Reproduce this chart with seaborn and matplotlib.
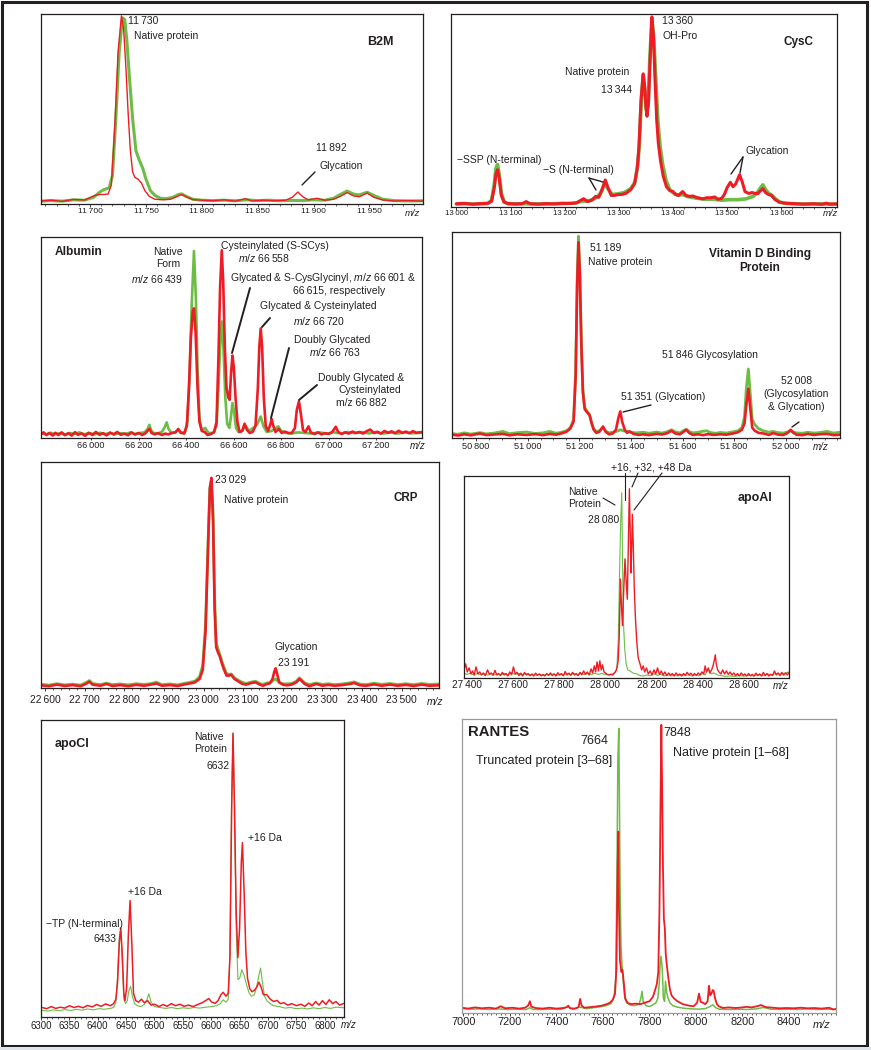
import matplotlib
matplotlib.use("Agg")
import matplotlib.pyplot as plt
from matplotlib.lines import Line2D
from matplotlib.patches import Rectangle
from matplotlib.ticker import MultipleLocator
import seaborn as sns
import pandas as pd

# ---------------------------------------------------------------- data
# (m/z, relative intensity %); green = first sample, red = second sample
B2M_GREEN = [(11656,1.5),(11665,1.8),(11675,1.5),(11685,2.2),(11695,2.0),(11703,3.5),(11708,6.0),(11712,7.5),(11717,8.5),(11720,15),(11723,45),(11726,80),(11729,98),(11731,97),(11733,85),(11735,68),(11738,45),(11741,28),(11744,23),(11747,19),(11750,13),(11754,7),(11758,4.5),(11763,3),(11768,2.8),(11774,3.5),(11779,5),(11782,5.3),(11786,4),(11792,2.5),(11800,2),(11810,1.8),(11820,2),(11830,1.7),(11840,2.2),(11850,1.8),(11860,2),(11870,1.7),(11880,1.9),(11890,1.8),(11900,2.2),(11910,2.0),(11918,3),(11924,5),(11930,6.8),(11936,5.2),(11941,4.8),(11948,6.2),(11954,4.5),(11962,2.5),(11972,1.8),(11985,1.6),(11998,1.7)]
B2M_RED = [(11656,1.6),(11665,2),(11675,1.4),(11685,2.4),(11695,2.1),(11703,4.2),(11708,5),(11712,5),(11716,5.2),(11719,10),(11722,40),(11725,80),(11728,99),(11730,92),(11732,72),(11734,48),(11736,28),(11738,17),(11740,14),(11743,13),(11746,11),(11749,7),(11753,4),(11758,2.5),(11765,2.2),(11772,2.5),(11778,4),(11782,5),(11786,3.8),(11792,2.3),(11800,2),(11810,1.7),(11820,2.2),(11830,1.5),(11839,2.8),(11845,1.6),(11855,2),(11865,1.7),(11875,2),(11881,3.5),(11886,6.3),(11890,4),(11895,2.2),(11903,3),(11910,2),(11918,2.5),(11924,4),(11930,6),(11936,4.2),(11941,3.8),(11948,5.8),(11954,3.5),(11962,2.1),(11972,1.6),(11985,1.8),(11998,1.5)]

CYSC_GREEN = [(13000,1.5),(13015,1.7),(13030,1.4),(13045,1.6),(13058,1.8),(13065,3.5),(13070,12),(13073,20),(13076,22),(13079,17),(13083,7),(13088,2.8),(13095,1.7),(13110,1.5),(13125,1.7),(13140,1.6),(13160,1.5),(13180,1.7),(13200,1.8),(13220,2),(13232,3),(13245,3.2),(13257,4.5),(13266,7),(13274,12),(13281,9),(13288,6.5),(13298,6.8),(13310,7.5),(13322,9.5),(13330,13),(13335,22),(13338,33),(13342,58),(13345,68),(13348,60),(13351,50),(13354,52),(13357,75),(13361,97),(13364,90),(13368,68),(13372,45),(13376,32),(13381,22),(13387,14),(13394,9),(13402,7),(13410,6),(13418,6.5),(13426,5.5),(13435,5),(13445,4.5),(13460,4),(13475,4),(13490,3.5),(13505,3.8),(13520,3.8),(13535,4.2),(13548,5.5),(13556,7.5),(13562,10),(13566,11.5),(13571,9),(13577,7),(13583,6),(13590,4),(13598,2.5),(13610,1.8),(13630,1.6),(13650,1.5),(13670,1.6),(13690,1.5),(13703,1.5)]
CYSC_RED = [(13000,1.7),(13015,1.9),(13030,1.5),(13045,1.8),(13058,1.9),(13065,3),(13070,10),(13073,17),(13076,19.3),(13079,15),(13083,6),(13088,2.5),(13095,1.8),(13110,1.6),(13122,1.8),(13129,2.8),(13136,1.7),(13150,1.5),(13165,1.8),(13180,1.6),(13195,1.9),(13210,1.8),(13222,2.2),(13230,3.5),(13235,4.3),(13242,2.8),(13250,3.5),(13257,5.5),(13263,5),(13269,9),(13275,14),(13280,10),(13286,6),(13292,6),(13298,6.4),(13306,6.5),(13314,7.2),(13322,9),(13329,12),(13334,20),(13337,30),(13341,55),(13345,69),(13348,62),(13350,52),(13352,47),(13355,55),(13358,78),(13361,98.5),(13364,88),(13367,65),(13370,45),(13373,33),(13377,24),(13382,16),(13388,10.5),(13394,8.5),(13400,8),(13405,6.5),(13410,6),(13418,8),(13424,6),(13430,5.5),(13437,5.7),(13443,5),(13450,4.5),(13455,4.2),(13462,4.8),(13470,4.8),(13477,5.2),(13483,4),(13490,4.5),(13495,6.5),(13500,10),(13506,12.8),(13511,10.5),(13516,12),(13523,16.7),(13528,13),(13533,8),(13540,7),(13546,7.5),(13552,7),(13557,7),(13562,8.5),(13566,9.5),(13571,7.5),(13576,6.5),(13582,6),(13588,4),(13596,2.5),(13606,2),(13620,1.8),(13640,1.5),(13660,1.7),(13675,1.4),(13683,2),(13690,1.5),(13703,1.6)]

ALB_GREEN = [(65789,2.5),(65810,1.8),(65830,2.6),(65850,1.9),(65870,2.4),(65890,1.7),(65910,2.5),(65930,2.0),(65950,2.8),(65970,1.9),(65995,2.4),(66015,1.8),(66037,2.6),(66060,2.0),(66080,2.5),(66100,1.8),(66122,2.4),(66145,2.1),(66164,2.7),(66185,2.0),(66206,2.5),(66225,2.8),(66238,4.5),(66245,6.6),(66252,4),(66262,2.5),(66280,2.3),(66298,3),(66310,5.5),(66318,7.8),(66326,4.5),(66338,2.5),(66353,2.8),(66367,4),(66378,2.5),(66395,3),(66405,8),(66414,30),(66423,65),(66433,93),(66441,70),(66448,35),(66456,10),(66465,4),(66480,5),(66494,2.5),(66515,2.5),(66528,6),(66536,25),(66543,45),(66550,58),(66557,45),(66565,20),(66573,7),(66582,5),(66588,10),(66595,17.4),(66602,13),(66610,5),(66620,3),(66635,3.5),(66651,6),(66665,3.5),(66683,5),(66700,7),(66714,10.7),(66725,6),(66739,3),(66760,3.5),(66788,5.8),(66800,3.5),(66820,2.5),(66844,2.2),(66870,2.8),(66900,2.5),(66930,2.2),(66960,2.8),(66992,2.2),(67020,2.8),(67050,2.3),(67080,3),(67110,2.4),(67140,2.9),(67170,2.3),(67200,2.8),(67230,2.2),(67260,2.7),(67290,2.2),(67320,2.8),(67350,2.3),(67395,2.6)]
ALB_RED = [(65789,1.8),(65800,2.8),(65812,1.5),(65825,2.5),(65838,1.2),(65850,2.6),(65862,1.5),(65876,2.8),(65890,1.4),(65905,2.4),(65918,1.2),(65932,2.9),(65945,1.6),(65960,2.3),(65975,1.1),(65990,2.6),(66005,1.5),(66020,3.0),(66035,1.6),(66050,2.4),(66065,1.3),(66080,2.7),(66095,1.8),(66110,3.0),(66125,1.6),(66140,2.2),(66155,1.4),(66170,2.8),(66185,1.7),(66200,2.5),(66215,1.5),(66228,2.3),(66240,3.8),(66246,4.6),(66254,2.5),(66268,1.8),(66282,2.4),(66298,1.5),(66312,2.2),(66324,1.8),(66340,2.5),(66355,2.8),(66367,4.5),(66378,2.6),(66392,2.2),(66403,6),(66412,25),(66420,50),(66428,63),(66433,64.5),(66440,52),(66448,25),(66456,8),(66466,3.5),(66478,3),(66490,1.5),(66505,2),(66518,3),(66528,8),(66536,40),(66543,75),(66550,93.4),(66556,78),(66563,45),(66570,25),(66578,20),(66583,19),(66589,32),(66595,41),(66601,35),(66608,20),(66616,8),(66625,3),(66636,3.5),(66646,7.1),(66656,4),(66668,2.5),(66680,3),(66692,6),(66702,25),(66708,45),(66714,54.5),(66720,45),(66727,20),(66735,6),(66745,3.5),(66755,7),(66760,9.4),(66767,6),(66776,3),(66790,4.5),(66802,2.5),(66815,3.2),(66830,2.5),(66845,2.5),(66858,5),(66866,14),(66875,18.2),(66883,12),(66892,4),(66902,3),(66915,5.8),(66925,2.8),(66940,2),(66955,2.8),(66970,1.8),(66985,2.4),(67000,2),(67015,3),(67030,5.6),(67040,3),(67055,2),(67070,2.8),(67085,2.2),(67100,3.2),(67115,2.5),(67130,3),(67145,2.2),(67160,3.4),(67175,4.2),(67190,2.5),(67205,3.1),(67220,2.2),(67235,3.5),(67250,2.6),(67265,3.3),(67280,2.4),(67295,3.6),(67310,2.5),(67325,3.2),(67340,2.4),(67355,3.4),(67370,2.6),(67395,3)]

VDBP_GREEN = [(50707,2.2),(50730,1.8),(50755,2.5),(50780,1.9),(50815,2.6),(50840,2.0),(50870,2.4),(50904,3.2),(50930,2.1),(50960,2.6),(50996,2.9),(51030,2.2),(51060,2.5),(51086,3.2),(51110,2.3),(51130,2.8),(51150,3.5),(51165,5),(51178,9),(51186,32),(51192,78),(51197,98),(51202,82),(51208,48),(51214,24),(51221,15),(51230,13),(51240,11.5),(51248,7.5),(51256,4.5),(51266,3.2),(51278,3.5),(51292,5),(51302,3.5),(51315,2.5),(51330,2.8),(51345,3.2),(51359,4),(51370,3.5),(51385,3.2),(51400,2.8),(51420,2.5),(51447,2.8),(51470,2.3),(51499,2.9),(51520,2.4),(51540,3.0),(51557,4),(51572,3),(51590,2.5),(51606,3.8),(51615,4.2),(51625,3.2),(51640,2.5),(51660,2.8),(51680,3.3),(51693,3.5),(51710,2.6),(51730,2.3),(51746,2.7),(51770,2.4),(51795,3.0),(51815,3.5),(51830,5),(51840,10),(51847,24),(51855,33.5),(51862,22),(51870,9),(51880,6.5),(51895,4.5),(51913,3.5),(51935,2.8),(51951,3.2),(51970,2.6),(51990,2.4),(52005,2.9),(52019,3.3),(52030,2.8),(52042,2.5),(52065,2.3),(52085,2.8),(52107,2.4),(52130,2.6),(52159,3.2),(52185,2.4),(52210,2.8)]
VDBP_RED = [(50707,1.6),(50730,1.2),(50755,1.8),(50780,1.3),(50815,2.2),(50840,1.4),(50870,1.7),(50904,2.0),(50930,1.3),(50960,1.8),(50996,1.5),(51030,1.9),(51060,1.4),(51086,2.0),(51110,1.6),(51130,2.2),(51150,3.0),(51165,4.5),(51178,8),(51186,30),(51192,75),(51197,95),(51202,80),(51208,45),(51214,22),(51221,14),(51230,12.5),(51240,11),(51248,7),(51256,4),(51266,2.5),(51278,3),(51292,5.6),(51302,3),(51315,1.8),(51330,2.2),(51342,4),(51352,10),(51359,12.9),(51366,8),(51376,4),(51385,2.5),(51395,3.2),(51410,2),(51430,1.5),(51447,1.8),(51470,1.4),(51499,2),(51520,1.7),(51540,2.3),(51557,3.5),(51572,2.2),(51590,1.8),(51606,3.2),(51615,4),(51625,2.5),(51640,1.5),(51660,1.8),(51680,1.4),(51700,1.9),(51720,1.5),(51746,1.8),(51770,1.6),(51795,2.2),(51815,2.8),(51830,4),(51840,7),(51847,16),(51855,23.9),(51862,15),(51870,5),(51880,3.5),(51895,2.5),(51913,2.2),(51935,1.5),(51951,2.4),(51970,1.6),(51990,1.5),(52005,2.3),(52019,4),(52030,2.5),(52042,1.6),(52065,1.4),(52085,2.0),(52107,1.5),(52130,1.8),(52159,2.0),(52185,1.4),(52210,1.6)]

CRP_GREEN = [(22590,1.6),(22610,1.3),(22630,1.9),(22650,1.4),(22670,1.7),(22690,1.3),(22705,2.5),(22712,3.3),(22720,2.0),(22740,1.5),(22755,2.2),(22770,1.5),(22790,1.8),(22810,1.4),(22830,1.9),(22850,1.6),(22870,2.0),(22881,2.6),(22895,1.5),(22915,1.8),(22935,1.4),(22950,2),(22965,2.5),(22978,3),(22990,5),(22998,10),(23005,28),(23011,62),(23016,89),(23020,92),(23024,78),(23028,40),(23032,20),(23037,17),(23041,15),(23046,12),(23052,9),(23058,6.5),(23064,6),(23070,6.2),(23078,4.5),(23087,3.5),(23098,2.5),(23108,2),(23120,2.6),(23131,3),(23142,2),(23150,1.6),(23160,2.2),(23170,2.5),(23177,3.5),(23182,4),(23188,3),(23195,2),(23205,1.8),(23222,2),(23234,3),(23242,4.5),(23248,3.5),(23255,2.3),(23267,1.5),(23284,2.2),(23300,1.6),(23315,1.9),(23330,1.5),(23350,1.8),(23370,2.3),(23380,2.7),(23395,1.7),(23410,1.5),(23430,2.1),(23450,1.6),(23470,2.0),(23490,1.5),(23510,1.9),(23530,1.5),(23550,2.0),(23570,1.6),(23594,1.8)]
CRP_RED = [(22590,1.2),(22610,0.8),(22630,1.5),(22650,0.9),(22670,1.3),(22690,0.8),(22705,2),(22712,2.8),(22720,1.5),(22740,1.0),(22755,1.8),(22770,0.9),(22790,1.3),(22810,0.8),(22830,1.4),(22850,1.0),(22870,1.6),(22881,2.0),(22895,1.0),(22915,1.3),(22935,0.9),(22950,1.5),(22965,2),(22978,2.5),(22990,4),(22998,8),(23005,25),(23011,60),(23016,88),(23020,93),(23024,74),(23028,35),(23032,18),(23037,15.5),(23041,14),(23046,11),(23052,8),(23058,5.5),(23064,5.5),(23070,5.8),(23078,4),(23087,3),(23098,1.8),(23108,1.5),(23120,2.2),(23131,2.5),(23142,1.5),(23150,1.0),(23160,1.8),(23167,2),(23174,4),(23179,7.5),(23182,8.7),(23186,6),(23191,2.5),(23200,1.5),(23210,1.2),(23222,1.5),(23234,2.5),(23242,4),(23248,3),(23255,1.8),(23267,0.8),(23284,1.8),(23300,1.0),(23315,1.4),(23330,1.0),(23350,1.3),(23370,1.8),(23380,2.2),(23395,1.2),(23410,1.0),(23430,1.6),(23450,1.0),(23470,1.5),(23490,1.0),(23510,1.4),(23530,0.9),(23550,1.5),(23570,1.0),(23594,1.2)]

APOAI_GREEN = [(27388,2.5),(27400,1.8),(27415,2.3),(27430,1.5),(27445,2.2),(27460,1.6),(27475,2.0),(27490,1.4),(27505,2.2),(27520,1.5),(27535,2.0),(27550,1.6),(27565,2.2),(27580,1.5),(27595,2.6),(27610,1.8),(27625,2.3),(27640,1.5),(27655,2.1),(27670,1.6),(27685,2.0),(27700,1.4),(27715,1.9),(27730,1.3),(27745,1.8),(27760,1.5),(27775,2.0),(27790,1.4),(27805,1.9),(27820,1.5),(27835,2.2),(27850,1.6),(27865,2.1),(27880,1.4),(27895,2.3),(27910,1.6),(27925,2.2),(27940,1.7),(27955,2.4),(27970,1.8),(27985,2.3),(28000,1.7),(28015,1.6),(28030,2.0),(28042,2.8),(28050,5),(28056,20),(28062,55),(28067,80),(28071,91.7),(28074,60),(28078,28),(28084,14),(28090,7),(28097,4),(28107,3.5),(28120,2.4),(28136,2),(28150,1.2),(28165,1.0),(28180,1.5),(28195,1.1),(28210,2.2),(28225,1.3),(28240,1.8),(28255,1.0),(28270,1.6),(28285,1.0),(28300,1.5),(28315,1.0),(28330,1.8),(28345,1.2),(28360,1.6),(28375,1.0),(28390,1.5),(28405,1.1),(28420,2.2),(28432,1.5),(28445,4.5),(28458,2),(28470,2.5),(28485,1.5),(28500,1.2),(28520,0.8),(28540,1.0),(28560,0.8),(28580,1.2),(28600,0.9),(28620,1.3),(28640,1.0),(28660,1.6),(28680,1.2),(28700,2.0),(28720,1.5),(28740,2.2),(28760,1.8),(28780,2.5),(28795,3.0)]
APOAI_RED = [(27388,4),(27395,7),(27402,3),(27410,5),(27418,2),(27425,3.5),(27432,1.5),(27440,5.5),(27448,2),(27456,3),(27464,1.5),(27472,2.5),(27480,1.2),(27490,4),(27498,1.8),(27506,2.5),(27514,1.3),(27522,3.8),(27530,1.5),(27538,2.2),(27546,1.2),(27554,2.8),(27562,1.5),(27570,2.2),(27578,1.0),(27586,3),(27594,1.6),(27602,5.5),(27610,2),(27618,2.8),(27626,1.2),(27634,2.4),(27642,1.0),(27650,2.8),(27658,1.5),(27666,2.2),(27674,1.1),(27682,1.8),(27690,1.0),(27698,2.4),(27706,1.3),(27714,2.0),(27722,1.1),(27730,1.7),(27738,1.0),(27746,2.2),(27754,1.3),(27762,2.5),(27770,1.2),(27778,2.0),(27786,1.0),(27794,2.6),(27802,1.4),(27810,2.2),(27818,1.1),(27826,3.2),(27834,1.5),(27842,2.4),(27850,1.3),(27858,2.8),(27866,1.5),(27874,2.2),(27882,1.2),(27890,2.8),(27898,1.6),(27906,3.5),(27914,1.8),(27922,3.0),(27930,1.5),(27938,4.5),(27945,2.5),(27952,6),(27958,3),(27964,8),(27970,3.5),(27976,8.5),(27982,4),(27988,6.5),(27994,3),(28000,2.5),(28008,1.8),(28016,1.5),(28024,1.8),(28032,1.5),(28040,2.5),(28048,4),(28055,8),(28060,20),(28065,49),(28070,35),(28074,26),(28080,45),(28085,59),(28090,48),(28095,39),(28100,70),(28104,93.7),(28108,70),(28111,52),(28114,65),(28117,81),(28121,65),(28125,45),(28130,30),(28136,18),(28142,10),(28150,7),(28157,4),(28164,6),(28170,3),(28178,5),(28186,2),(28194,3.5),(28202,1.5),(28210,4),(28218,2),(28226,5),(28234,1.8),(28242,3.5),(28250,1.5),(28258,3),(28266,1.2),(28274,2.5),(28282,1.3),(28290,2.2),(28298,1.0),(28306,2.5),(28314,1.3),(28322,2.0),(28330,1.0),(28338,2.2),(28346,1.4),(28354,2.8),(28362,1.5),(28370,2.4),(28378,1.2),(28386,2.2),(28394,1.3),(28402,2.5),(28410,1.5),(28418,3),(28426,2),(28432,6),(28438,3),(28446,5),(28452,2.5),(28460,4),(28466,6),(28472,9),(28476,11.5),(28480,7),(28486,4),(28492,3),(28500,2),(28508,4),(28516,2),(28524,3.5),(28532,1.8),(28540,3),(28548,1.5),(28556,2.5),(28564,1.2),(28572,2.2),(28580,1.0),(28588,2.5),(28596,1.3),(28604,2.0),(28612,1.0),(28620,2.2),(28628,1.1),(28636,1.8),(28644,1.0),(28652,2.4),(28660,1.2),(28668,2.0),(28676,1.0),(28684,2.8),(28692,1.2),(28700,2.2),(28708,1.0),(28716,1.8),(28724,1.2),(28732,3.5),(28740,1.5),(28748,2.5),(28756,1.2),(28764,2.8),(28772,1.4),(28780,2.5),(28788,1.5),(28795,2.8)]

APOCI_GREEN = [(6302,2.2),(6312,2.0),(6322,2.4),(6332,2.1),(6342,2.5),(6352,2.2),(6362,2.6),(6372,2.3),(6382,2.7),(6392,2.4),(6402,2.8),(6412,2.6),(6422,2.9),(6428,3.2),(6432,5),(6435,14),(6438,27),(6440.5,29.4),(6443,20),(6446,6),(6449,4.5),(6452,5.5),(6455,9),(6458,10.3),(6461,7),(6465,4.5),(6470,3.8),(6476,3.5),(6482,4.2),(6487,6),(6490,7.8),(6494,5),(6500,3.5),(6510,3.2),(6520,2.9),(6530,3.2),(6540,2.8),(6550,3.1),(6560,2.9),(6570,3.2),(6580,3.0),(6590,3.3),(6600,3.5),(6610,3.8),(6616,4.5),(6621,5.8),(6626,5),(6630,6),(6633,22),(6636,75),(6638.4,95.7),(6641,72),(6644,30),(6647,12.6),(6650,13),(6654,15.9),(6658,14),(6662,11),(6667,8),(6671,7),(6676,7.5),(6680,10),(6684,14),(6687,16.5),(6690,12),(6694,7),(6698,5.5),(6704,4.5),(6710,3.8),(6720,3.5),(6730,3.0),(6740,3.2),(6750,2.8),(6760,3.0),(6770,2.7),(6780,3.1),(6790,2.8),(6800,3.2),(6810,2.9),(6820,3.3),(6834,3.1)]
APOCI_RED = [(6302,3.2),(6310,2.8),(6318,3.5),(6326,2.9),(6334,3.3),(6342,3.0),(6350,3.8),(6358,3.2),(6366,3.6),(6374,3.1),(6382,3.9),(6390,3.4),(6398,4.2),(6406,3.6),(6414,4.4),(6422,3.8),(6428,4.5),(6432,6),(6435,12),(6438,25),(6440.5,30),(6443,22),(6446,8),(6448,5.5),(6451,10),(6454,28),(6457,39.2),(6460,25),(6463,8),(6467,5.5),(6472,5),(6477,6),(6482,4.8),(6488,5.5),(6494,4),(6500,4.3),(6508,3.5),(6515,4.2),(6522,3.6),(6530,4.5),(6537,3.8),(6545,4.3),(6552,3.6),(6560,4.0),(6568,3.5),(6576,4.2),(6584,4.8),(6590,5.5),(6595.6,6.2),(6601,5),(6607,4.6),(6612,5.5),(6617,7.5),(6621,8.3),(6626,7),(6630,8),(6633,20),(6636,70),(6638.4,95.5),(6641,70),(6644,35),(6647,20),(6650,30),(6653,52),(6655,58.7),(6658,42),(6661,22),(6664,13),(6668,9.5),(6672,8.5),(6676,9),(6680,10),(6684,11.7),(6688,10),(6692,7.5),(6698,7.5),(6704,6),(6710,5.2),(6716,5.6),(6722,4.5),(6728,4.8),(6735,4.0),(6742,4.5),(6750,3.8),(6758,4.3),(6765,3.6),(6772,4.7),(6778,3.8),(6784,5.2),(6790,4.0),(6796,5.5),(6802,4.2),(6808,5.8),(6814,4.5),(6820,5.2),(6826,4.0),(6834,4.6)]

RANTES_GREEN = [(6994,1.5),(7030,1.3),(7070,1.4),(7110,1.2),(7150,1.4),(7190,1.2),(7230,1.3),(7270,1.2),(7286,1.8),(7300,1.2),(7340,1.2),(7380,1.3),(7420,1.2),(7451,2.2),(7470,1.3),(7500,2),(7530,1.5),(7560,1.8),(7590,2.2),(7615,2.5),(7635,3.2),(7648,5.5),(7655,12),(7660,45),(7664,85),(7668,96.8),(7671,70),(7674,40),(7678,22),(7683,15),(7688,10),(7694,5),(7702,3.5),(7715,2.8),(7735,2.5),(7755,3),(7763,5),(7768,7.4),(7773,4),(7785,2.5),(7800,2.2),(7815,2.8),(7828,3.5),(7836,5),(7842,10),(7846,17),(7850,19.3),(7855,15),(7860,5),(7865,4),(7869,10.8),(7874,7),(7880,5),(7888,3.5),(7900,2.5),(7920,2),(7950,1.6),(7980,1.4),(8010,1.3),(8040,1.5),(8060,2.2),(8072,2.8),(8085,1.8),(8100,1.3),(8140,1.2),(8180,1.3),(8220,1.2),(8260,1.4),(8290,1.9),(8320,1.3),(8360,1.2),(8400,1.3),(8440,1.2),(8480,1.4),(8520,1.2),(8560,1.3),(8602,1.2)]
RANTES_RED = [(6994,1.8),(7020,1.5),(7050,1.9),(7080,1.6),(7110,1.8),(7140,1.5),(7160,2.3),(7180,1.6),(7210,1.8),(7240,1.5),(7265,1.8),(7278,2.5),(7286,4),(7292,2.2),(7310,1.7),(7340,1.5),(7370,1.8),(7400,1.5),(7430,1.7),(7445,2.0),(7451,2.5),(7458,1.6),(7480,1.5),(7495,2.0),(7502,4.8),(7508,2.5),(7520,1.8),(7545,2.0),(7570,2.2),(7595,2.5),(7615,3),(7630,3.5),(7642,4.5),(7652,6.5),(7658,15),(7663,50),(7666,61.7),(7669,35),(7673,18),(7679,14),(7684,14.7),(7690,10),(7696,5),(7705,3.5),(7720,3),(7740,3.2),(7760,3),(7780,3.5),(7800,4),(7815,5.5),(7825,8),(7832,10),(7838,14),(7843,35),(7848,75),(7851,98),(7854,80),(7858,50),(7862,32),(7866,28.9),(7870,20),(7875,16),(7881,12),(7888,8),(7895,6),(7905,5),(7920,4),(7944,3),(7970,2.5),(7990,2.3),(8005,3.5),(8013,6.6),(8020,3.8),(8030,3.5),(8040,3),(8050,4),(8056,9.3),(8061,6),(8066,6.5),(8072,7.8),(8076,7.6),(8082,5),(8090,3),(8100,2.2),(8116,1.7),(8140,1.9),(8170,1.7),(8200,1.9),(8216,2.1),(8240,1.9),(8262,2.3),(8280,2.7),(8300,2.0),(8330,1.8),(8359,1.6),(8390,1.7),(8420,1.6),(8450,1.8),(8480,1.6),(8510,1.7),(8540,1.5),(8573,1.8),(8590,1.2),(8602,1.4)]

TS = "\u2009"
B2M_TICKS = [11700, 11750, 11800, 11850, 11900, 11950]
B2M_LABELS = ["11" + TS + "700", "11" + TS + "750", "11" + TS + "800", "11" + TS + "850", "11" + TS + "900", "11" + TS + "950"]
CYSC_TICKS = [13000, 13100, 13200, 13300, 13400, 13500, 13600]
CYSC_LABELS = ["13" + TS + "000", "13" + TS + "100", "13" + TS + "200", "13" + TS + "300", "13" + TS + "400", "13" + TS + "500", "13" + TS + "600"]
ALB_TICKS = [66000, 66200, 66400, 66600, 66800, 67000, 67200]
ALB_LABELS = ["66" + TS + "000", "66" + TS + "200", "66" + TS + "400", "66" + TS + "600", "66" + TS + "800", "67" + TS + "000", "67" + TS + "200"]
VDBP_TICKS = [50800, 51000, 51200, 51400, 51600, 51800, 52000]
VDBP_LABELS = ["50" + TS + "800", "51" + TS + "000", "51" + TS + "200", "51" + TS + "400", "51" + TS + "600", "51" + TS + "800", "52" + TS + "000"]
CRP_TICKS = [22600, 22700, 22800, 22900, 23000, 23100, 23200, 23300, 23400, 23500]
CRP_LABELS = ["22" + TS + "600", "22" + TS + "700", "22" + TS + "800", "22" + TS + "900", "23" + TS + "000", "23" + TS + "100", "23" + TS + "200", "23" + TS + "300", "23" + TS + "400", "23" + TS + "500"]
APOAI_TICKS = [27400, 27600, 27800, 28000, 28200, 28400, 28600]
APOAI_LABELS = ["27" + TS + "400", "27" + TS + "600", "27" + TS + "800", "28" + TS + "000", "28" + TS + "200", "28" + TS + "400", "28" + TS + "600"]
APOCI_TICKS = [6300, 6350, 6400, 6450, 6500, 6550, 6600, 6650, 6700, 6750, 6800]
APOCI_LABELS = ["6300", "6350", "6400", "6450", "6500", "6550", "6600", "6650", "6700", "6750", "6800"]
RANTES_TICKS = [7000, 7200, 7400, 7600, 7800, 8000, 8200, 8400]
RANTES_LABELS = ["7000", "7200", "7400", "7600", "7800", "8000", "8200", "8400"]

# ---------------------------------------------------------------- style
sns.set_style("white")
plt.rcParams['font.family'] = ['Liberation Sans', 'DejaVu Sans']
plt.rcParams['mathtext.fontset'] = 'custom'
plt.rcParams['mathtext.rm'] = 'Liberation Sans'
plt.rcParams['mathtext.it'] = 'Liberation Sans:italic'
plt.rcParams['mathtext.bf'] = 'Liberation Sans:bold'

W, H = 871, 1050
RED = '#EE1C25'
GREEN = '#6CBD45'
INK = '#231F20'

fig = plt.figure(figsize=(W / 100, H / 100), dpi=100)
fig.patch.set_facecolor('white')


def panel(box, xlim, green, red, ticks, labels, minor, tick_fs, pad, glw, rlw,
          major_len=2.0, minor_len=1.2, edge=INK):
    l, t, r, b = box
    ax = fig.add_axes([l / W, 1 - b / H, (r - l) / W, (b - t) / H])
    for series, color, lw in ((green, GREEN, glw), (red, RED, rlw)):
        df = pd.DataFrame(series, columns=['mz', 'intensity'])
        sns.lineplot(data=df, x='mz', y='intensity', ax=ax, color=color,
                     linewidth=lw, estimator=None, sort=False, legend=False)
    ax.set_xlim(*xlim)
    ax.set_ylim(0, 100)
    ax.set_xticks(ticks)
    ax.set_xticklabels(labels)
    if minor:
        ax.xaxis.set_minor_locator(MultipleLocator(minor))
    ax.tick_params(axis='x', which='major', direction='out', length=major_len, width=0.6,
                   labelsize=tick_fs, pad=pad, bottom=True, color=INK, labelcolor=INK)
    ax.tick_params(axis='x', which='minor', direction='out', length=minor_len, width=0.5,
                   bottom=True, color=INK)
    ax.set_yticks([])
    ax.set_xlabel('')
    ax.set_ylabel('')
    for s in ax.spines.values():
        s.set_edgecolor(edge)
        s.set_linewidth(0.9)
        s.set_visible(True)
    ax.set_facecolor('none')
    return ax


def T(x, y, s, ha='left', size=7.5, weight='normal', style='normal'):
    fig.text(x / W, 1 - y / H, s, ha=ha, va='center', fontsize=size,
             fontweight=weight, fontstyle=style, color=INK)


def L(x1, y1, x2, y2, lw=1.0):
    fig.add_artist(Line2D([x1 / W, x2 / W], [1 - y1 / H, 1 - y2 / H], color=INK,
                          lw=lw, transform=fig.transFigure))


MZ = r"$\mathit{m/z}$"

# ---------------------------------------------------------------- B2M
panel((41, 14, 423, 204), (11656, 11998), B2M_GREEN, B2M_RED, B2M_TICKS, B2M_LABELS,
      10, 6.1, 1.2, 2.2, 1.0)
T(128, 21, "11" + TS + "730")
T(134, 36, "Native protein")
T(367, 42, "B2M", size=9, weight='bold')
T(316, 148, "11" + TS + "892")
T(319, 166, "Glycation")
L(302, 185, 315, 172)
T(405, 213, "m/z", size=6.8, style='italic')

# ---------------------------------------------------------------- CysC
panel((451, 14, 837, 207), (12990, 13703), CYSC_GREEN, CYSC_RED, CYSC_TICKS, CYSC_LABELS,
      20, 5.7, 0.5, 2.6, 2.2, major_len=1.8, minor_len=1.2)
T(662, 21, "13" + TS + "360")
T(662, 36, "OH-Pro")
T(783, 42, "CysC", size=8.5, weight='bold')
T(565, 72, "Native protein")
T(601, 90, "13" + TS + "344")
T(457, 160, "\u2212SSP (N-terminal)")
T(543, 170, "\u2212S (N-terminal)")
L(589, 178, 596, 190)
L(589, 178, 603, 182)
T(745, 151, "Glycation")
L(743, 157, 731, 174)
L(743, 157, 740, 173)
T(823, 213, "m/z", size=6.8, style='italic')

# ---------------------------------------------------------------- Albumin
panel((41, 237, 422, 438), (65789, 67393), ALB_GREEN, ALB_RED, ALB_TICKS, ALB_LABELS,
      None, 6.6, 0.8, 1.9, 1.9, major_len=1.5)
T(55, 252, "Albumin", size=8.6, weight='bold')
T(183, 252, "Native", ha='right')
T(180, 264, "Form", ha='right')
T(183, 279, MZ + " 66" + TS + "439", ha='right')
T(221, 246, "Cysteinylated (S-SCys)")
T(238, 258, MZ + " 66" + TS + "558")
T(230, 278, "Glycated & S-CysGlycinyl, " + MZ + " 66" + TS + "601 &")
T(293, 291, "66" + TS + "615, respectively")
T(260, 306, "Glycated & Cysteinylated")
T(293, 321, MZ + " 66" + TS + "720")
T(294, 340, "Doubly Glycated")
T(309, 352, MZ + " 66" + TS + "763")
T(318, 378, "Doubly Glycated &")
T(338, 390, "Cysteinylated")
T(336, 403, "m/z 66" + TS + "882")
L(250, 288, 232, 353, lw=1.4)
L(270, 318, 262, 327, lw=1.4)
L(289, 348, 271, 418, lw=1.4)
L(317, 385, 299, 400, lw=1.4)
T(410, 446, "m/z", size=7, style='italic')

# ---------------------------------------------------------------- Vitamin D binding protein
panel((452, 232, 840, 438), (50707, 52210), VDBP_GREEN, VDBP_RED, VDBP_TICKS, VDBP_LABELS,
      50, 6.6, 1.0, 2.0, 1.9, major_len=1.8, minor_len=1.2)
T(590, 248, "51" + TS + "189")
T(588, 262, "Native protein")
T(760, 254, "Vitamin D Binding", ha='center', size=8.6, weight='bold')
T(760, 268, "Protein", ha='center', size=8.6, weight='bold')
T(662, 355, "51" + TS + "846 Glycosylation")
T(621, 397, "51" + TS + "351 (Glycation)")
L(651, 405, 623, 412)
T(797, 381, "52" + TS + "008", ha='center')
T(796, 394, "(Glycosylation", ha='center')
T(796, 407, "& Glycation)", ha='center')
L(799, 422, 792, 427)
T(813, 447, "m/z", size=7, style='italic')

# ---------------------------------------------------------------- CRP
panel((41, 462, 439, 688), (22590, 23594), CRP_GREEN, CRP_RED, CRP_TICKS, CRP_LABELS,
      20, 7.4, 2.6, 2.0, 1.9, major_len=2.4, minor_len=1.5)
T(215, 480, "23" + TS + "029")
T(224, 500, "Native protein")
T(393, 498, "CRP", size=8.4, weight='bold')
T(274, 647, "Glycation")
T(278, 663, "23" + TS + "191")
T(427, 702, "m/z", size=7.4, style='italic')

# ---------------------------------------------------------------- apoAI
panel((464, 476, 789, 678), (27388, 28795), APOAI_GREEN, APOAI_RED, APOAI_TICKS, APOAI_LABELS,
      None, 7.2, 1.6, 0.8, 1.0, major_len=0.0)
T(611, 468, "+16, +32, +48 Da")
L(625, 473, 625, 500, lw=0.8)
L(638, 473, 632, 487, lw=0.8)
L(662, 473, 634, 510, lw=0.8)
T(568, 492, "Native")
T(568, 504, "Protein")
L(603, 498, 615, 505, lw=0.8)
T(619, 520, "28" + TS + "080", ha='right')
T(738, 498, "apoAI", size=9, weight='bold')
T(773, 686, "m/z", size=7, style='italic')

# ---------------------------------------------------------------- apoCI
panel((41, 720, 344, 1017), (6300, 6834), APOCI_GREEN, APOCI_RED, APOCI_TICKS, APOCI_LABELS,
      10, 6.9, 0.8, 0.8, 1.1, major_len=1.8, minor_len=1.2)
T(55, 744, "apoCI", size=9, weight='bold')
T(194, 737, "Native")
T(194, 749, "Protein")
T(206, 766, "6632")
T(248, 838, "+16 Da")
T(128, 892, "+16 Da")
T(46, 924, "\u2212TP (N-terminal)")
T(93, 939, "6433")
T(341, 1025, "m/z", size=7, style='italic')

# ---------------------------------------------------------------- RANTES
panel((462, 719, 836, 1013), (6994, 8602), RANTES_GREEN, RANTES_RED, RANTES_TICKS, RANTES_LABELS,
      20, 7.9, 1.2, 1.1, 1.3, major_len=2.0, minor_len=1.2, edge='#9A9A9A')
T(468, 732, "RANTES", size=10.7, weight='bold')
T(608, 741, "7664", ha='right', size=9)
T(476, 761, "Truncated protein [3\u201368]", size=9)
T(663, 733, "7848", size=9)
T(673, 753, "Native protein [1\u201368]", size=9)
T(813, 1025, "m/z", size=7.9, style='italic')

# ---------------------------------------------------------------- frame
fig.add_artist(Rectangle((1.5 / W, 1 - 1045.5 / H), (867 - 1.5) / W, (1045.5 - 1.5) / H,
                         transform=fig.transFigure, fill=False, edgecolor=INK, lw=2.2))
fig.add_artist(Rectangle((0, 0), 1, 3.5 / H, transform=fig.transFigure,
                         facecolor='#DDE4EC', edgecolor='none'))

fig.savefig("out.png", dpi=100, facecolor='white')
